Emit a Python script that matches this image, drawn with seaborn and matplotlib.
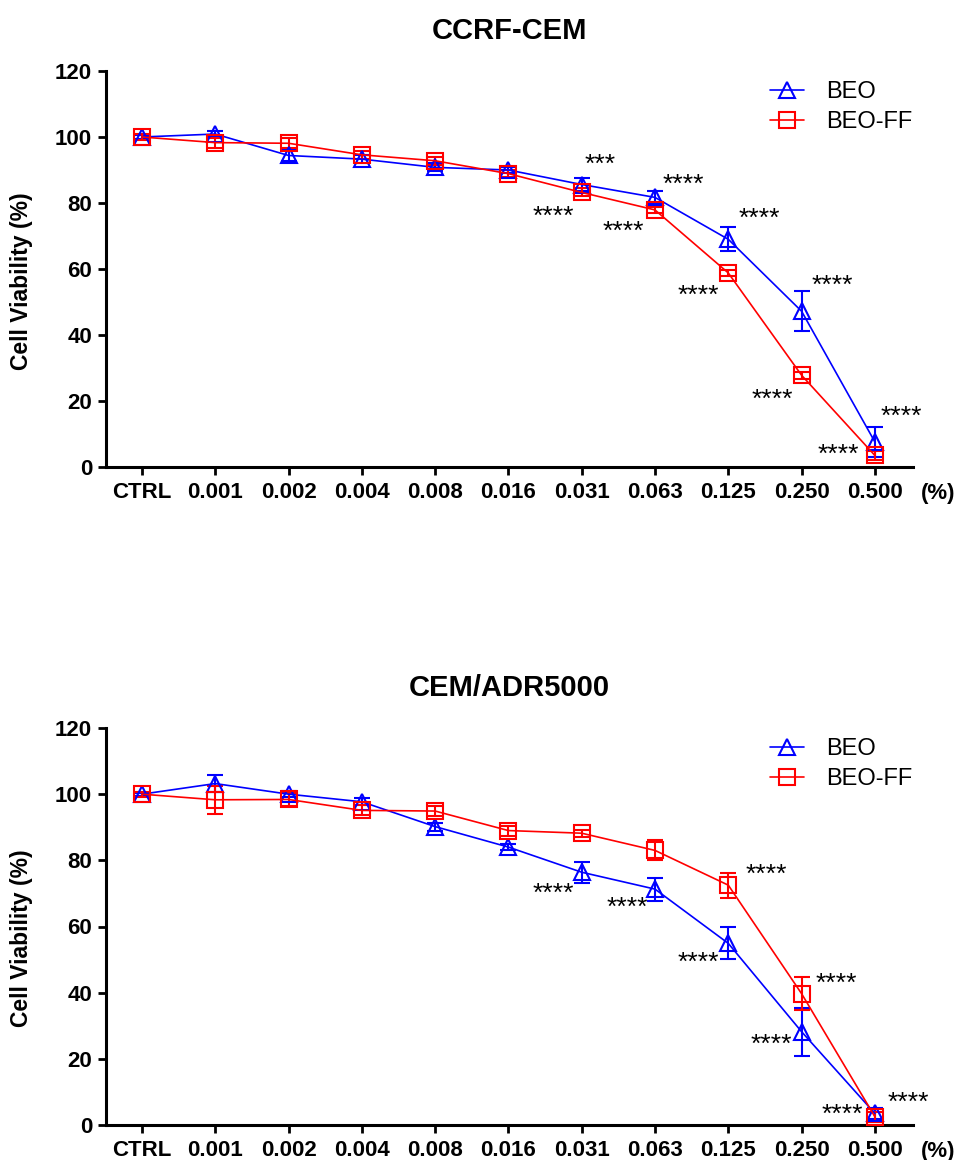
import numpy as np
import pandas as pd
import matplotlib
matplotlib.use("Agg")
import matplotlib.pyplot as plt
import seaborn as sns

# ---------------- data ----------------
concentrations = ["CTRL", "0.001", "0.002", "0.004", "0.008", "0.016",
                  "0.031", "0.063", "0.125", "0.250", "0.500"]
series_names = ["BEO", "BEO-FF"]

ccrf_beo = [100.0, 100.9, 94.4, 93.3, 90.8, 90.0, 85.6, 81.7, 69.0, 47.2, 7.6]
ccrf_beo_sd = [0.5, 1.0, 1.6, 1.2, 1.2, 1.0, 2.0, 1.8, 3.6, 6.0, 4.5]
ccrf_ff = [100.0, 98.3, 98.1, 94.6, 92.8, 88.9, 83.2, 77.9, 58.8, 27.8, 3.5]
ccrf_ff_sd = [0.8, 1.5, 1.5, 1.2, 1.2, 1.0, 1.2, 1.0, 1.0, 1.0, 1.5]

adr_beo = [100.0, 103.2, 100.0, 97.7, 90.2, 84.0, 76.4, 71.3, 54.9, 28.2, 3.5]
adr_beo_sd = [0.5, 2.6, 1.0, 1.0, 1.2, 1.0, 3.2, 3.5, 4.8, 7.3, 1.7]
adr_ff = [100.0, 98.3, 98.4, 95.1, 94.9, 89.0, 88.2, 83.0, 72.5, 39.7, 2.5]
adr_ff_sd = [0.8, 4.3, 2.0, 1.5, 1.5, 1.5, 1.0, 3.0, 3.8, 5.0, 1.5]

# significance labels: (series, concentration index, text)
ccrf_sig = [("BEO", 6, "***"), ("BEO-FF", 6, "****"),
            ("BEO", 7, "****"), ("BEO-FF", 7, "****"),
            ("BEO", 8, "****"), ("BEO-FF", 8, "****"),
            ("BEO", 9, "****"), ("BEO-FF", 9, "****"),
            ("BEO", 10, "****"), ("BEO-FF", 10, "****")]
adr_sig = [("BEO", 6, "****"), ("BEO", 7, "****"),
           ("BEO", 8, "****"), ("BEO-FF", 8, "****"),
           ("BEO", 9, "****"), ("BEO-FF", 9, "****"),
           ("BEO", 10, "****"), ("BEO-FF", 10, "****")]
# label offsets in pixels (dx right, dy down) – styling only
ccrf_sig_off = [(18, -27), (-28, 17), (28, -20), (-32, 15), (31, -27),
                (-30, 16), (31, -32), (-29, 18), (26, -32), (-37, -8)]
adr_sig_off = [(-28, 15), (-28, 12), (-30, 12), (38, -17), (-30, 6),
               (35, -17), (-33, -6), (33, -21)]

# ---------------- style ----------------
sns.set_style("ticks")
plt.rcParams["font.family"] = ["Liberation Sans", "DejaVu Sans"]
for k in ["text.color", "axes.labelcolor", "xtick.color", "ytick.color",
          "axes.edgecolor"]:
    plt.rcParams[k] = "black"

colors = {"BEO": "#0000FF", "BEO-FF": "#FF0000"}
markers = {"BEO": "^", "BEO-FF": "s"}

fig = plt.figure(figsize=(9.62, 11.6), dpi=100)
W, H = 962, 1160
ax_top = fig.add_axes([106 / W, 1 - 467 / H, 807 / W, 396 / H])
ax_bot = fig.add_axes([106 / W, 1 - 1125 / H, 807 / W, 397 / H])


def draw_panel(ax, title, beo, beo_sd, ff, ff_sd, sig, sig_off):
    x = np.arange(len(concentrations))
    df = pd.DataFrame({
        "x": np.concatenate([x, x]),
        "value": beo + ff,
        "sd": beo_sd + ff_sd,
        "series": ["BEO"] * len(x) + ["BEO-FF"] * len(x),
    })
    for name in series_names:
        sub = df[df["series"] == name]
        c = colors[name]
        ax.errorbar(sub["x"], sub["value"], yerr=sub["sd"], fmt="none",
                    ecolor=c, elinewidth=1.5, capsize=5.5, capthick=1.5,
                    zorder=2, clip_on=False)
        sns.lineplot(data=sub, x="x", y="value", ax=ax, color=c,
                     marker=markers[name], ms=11.5, mfc="none", mec=c,
                     mew=1.5, lw=1.2, label=name, errorbar=None,
                     zorder=3, clip_on=False)
    vals = {"BEO": beo, "BEO-FF": ff}
    for (name, i, txt), (dx, dy) in zip(sig, sig_off):
        ax.annotate(txt, xy=(i, vals[name][i]), xytext=(dx, -dy - 7),
                    textcoords="offset pixels", ha="center", va="center",
                    fontsize=19, color="black")

    ax.set_xlim(-0.49, 10.52)
    ax.set_ylim(0, 120)
    ax.set_yticks(range(0, 121, 20))
    ax.set_xticks(x)
    ax.set_xticklabels(concentrations)
    ax.set_xlabel("")
    ax.set_ylabel("Cell Viability (%)", fontsize=16.5, fontweight="bold")
    ax.yaxis.set_label_coords(-0.09, 0.47)
    ax.set_title(title, fontsize=21, fontweight="bold", pad=23)
    sns.despine(ax=ax)
    for s in ["left", "bottom"]:
        ax.spines[s].set_linewidth(2.2)
        ax.spines[s].set_color("black")
    ax.tick_params(axis="both", direction="out", length=6, width=2,
                   labelsize=16, colors="black")
    ax.tick_params(axis="x", pad=5)
    ax.tick_params(axis="y", pad=4)
    for lbl in ax.get_xticklabels() + ax.get_yticklabels():
        lbl.set_fontweight("bold")
    ax.annotate("(%)", xy=(1, 0), xycoords="axes fraction",
                xytext=(25, -26), textcoords="offset pixels",
                ha="center", va="center", fontsize=16, fontweight="bold")
    leg = ax.legend(loc="upper left", bbox_to_anchor=(0.823, 0.975),
                    frameon=False, fontsize=17, handlelength=1.45,
                    handletextpad=0.9, labelspacing=0.35, borderpad=0,
                    borderaxespad=0)
    for t in leg.get_texts():
        t.set_color("black")


draw_panel(ax_top, "CCRF-CEM", ccrf_beo, ccrf_beo_sd, ccrf_ff, ccrf_ff_sd,
           ccrf_sig, ccrf_sig_off)
draw_panel(ax_bot, "CEM/ADR5000", adr_beo, adr_beo_sd, adr_ff, adr_ff_sd,
           adr_sig, adr_sig_off)

fig.savefig("out.png", dpi=100, facecolor="white")
